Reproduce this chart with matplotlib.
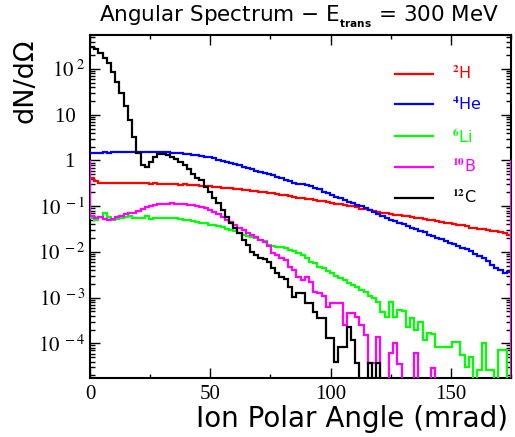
import matplotlib
matplotlib.use("Agg")
import matplotlib.pyplot as plt
import numpy as np
from matplotlib.ticker import FixedLocator, LogLocator, FuncFormatter, NullFormatter

plt.rcParams['mathtext.fontset'] = 'stix'

# 100 bins of 1.75 mrad between 0 and 175 mrad
bin_width = 1.75
n_bins = 100

h2 = [0.42, 0.36, 0.325, 0.32, 0.325, 0.33, 0.32, 0.325, 0.33, 0.325,
      0.32, 0.32, 0.315, 0.32, 0.31, 0.315, 0.31, 0.305, 0.31, 0.30,
      0.30, 0.295, 0.30, 0.29, 0.29, 0.285, 0.28, 0.275, 0.27, 0.265,
      0.26, 0.255, 0.25, 0.245, 0.24, 0.235, 0.23, 0.225, 0.22, 0.215,
      0.205, 0.20, 0.195, 0.19, 0.183, 0.177, 0.172, 0.166, 0.16, 0.155,
      0.15, 0.145, 0.142, 0.137, 0.133, 0.127, 0.122, 0.118, 0.114, 0.110,
      0.106, 0.102, 0.099, 0.094, 0.089, 0.086, 0.083, 0.079, 0.075, 0.072,
      0.0695, 0.067, 0.065, 0.063, 0.062, 0.060, 0.058, 0.056, 0.054, 0.052,
      0.050, 0.049, 0.047, 0.0457, 0.044, 0.042, 0.040, 0.039, 0.038, 0.036,
      0.034, 0.0327, 0.032, 0.031, 0.030, 0.029, 0.028, 0.027, 0.0255, 0.024]

he4 = [1.45, 1.47, 1.48, 1.50, 1.49, 1.51, 1.52, 1.51, 1.53, 1.54,
       1.55, 1.54, 1.56, 1.55, 1.55, 1.54, 1.53, 1.52, 1.51, 1.49,
       1.47, 1.45, 1.42, 1.39, 1.35, 1.31, 1.27, 1.22, 1.17, 1.12,
       1.05, 0.99, 0.93, 0.88, 0.83, 0.78, 0.73, 0.68, 0.64, 0.60,
       0.56, 0.53, 0.50, 0.47, 0.44, 0.41, 0.38, 0.36, 0.33, 0.31,
       0.30, 0.285, 0.27, 0.25, 0.235, 0.205, 0.19, 0.175, 0.16, 0.148,
       0.136, 0.126, 0.117, 0.107, 0.099, 0.090, 0.083, 0.076, 0.069, 0.061,
       0.055, 0.051, 0.047, 0.043, 0.040, 0.037, 0.034, 0.031, 0.029, 0.027,
       0.024, 0.022, 0.020, 0.019, 0.0176, 0.016, 0.0148, 0.0135, 0.0125, 0.0118,
       0.0105, 0.0092, 0.0080, 0.0072, 0.0062, 0.0052, 0.0045, 0.0040, 0.0034, 0.0036]

li6 = [0.055, 0.050, 0.0587, 0.0717, 0.058, 0.050, 0.052, 0.055, 0.058, 0.060,
       0.056, 0.056, 0.055, 0.062, 0.052, 0.054, 0.055, 0.055, 0.055, 0.054,
       0.054, 0.052, 0.050, 0.049, 0.048, 0.046, 0.044, 0.042, 0.039, 0.0386,
       0.037, 0.035, 0.032, 0.030, 0.028, 0.026, 0.024, 0.022, 0.021, 0.020,
       0.018, 0.017, 0.0141, 0.0135, 0.013, 0.0129, 0.012, 0.011, 0.0105, 0.0095,
       0.0085, 0.0072, 0.0061, 0.0057, 0.0048, 0.0044, 0.0039, 0.0034, 0.0030, 0.0027,
       0.0024, 0.0021, 0.0019, 0.00172, 0.0015, 0.00134, 0.0011, 0.00097, 0.00081, 0.00049,
       0.00038, 0.00081, 0.00038, 0.00053, 0.00050, 0.00023, 0.00036, 0.000195, 0.000295, 0.000118,
       0.000167, 0.000160, 8.4e-5, 8.4e-5, 8.4e-5, 8.4e-5, 0.000108, 0.000108, 5.5e-5, 3.1e-5,
       5.1e-5, 0, 2.6e-5, 0.000101, 2.6e-5, 2.6e-5, 0, 7.1e-5, 7.1e-5, 0]

b10 = [0.060, 0.055, 0.057, 0.052, 0.0497, 0.052, 0.057, 0.060, 0.066, 0.070,
       0.071, 0.078, 0.085, 0.095, 0.100, 0.106, 0.109, 0.111, 0.114, 0.116,
       0.114, 0.111, 0.109, 0.106, 0.106, 0.103, 0.098, 0.091, 0.082, 0.076,
       0.067, 0.059, 0.050, 0.046, 0.039, 0.033, 0.030, 0.026, 0.0235, 0.0216,
       0.0184, 0.0169, 0.0132, 0.0096, 0.0085, 0.0073, 0.0066, 0.0047, 0.0040, 0.0028,
       0.0024, 0.0028, 0.0022, 0.00135, 0.00124, 0.0011, 0.00063, 0.00076, 0.00076, 0.00076,
       0.00025, 0.00046, 0.00046, 0.00038, 0.00025, 0.00015, 3.7e-5, 3.7e-5, 0.000135, 0,
       0, 6.3e-5, 0.00010, 3.5e-5, 0, 0, 0, 6.3e-5, 0, 0,
       0, 2.9e-5, 0, 0, 0, 0, 0, 0, 0, 0,
       0, 0, 0, 0, 0, 0, 0, 0, 0, 0]

c12 = [298, 270, 227, 171, 133, 87, 53, 30, 15.5, 7.65,
       3.3, 1.47, 0.79, 0.73, 0.94, 1.21, 1.38, 1.38, 1.29, 1.17,
       1.06, 0.92, 0.79, 0.64, 0.50, 0.41, 0.372, 0.266, 0.207, 0.150,
       0.117, 0.082, 0.0587, 0.0427, 0.0331, 0.0258, 0.0181, 0.0141, 0.0099, 0.0085,
       0.0073, 0.0069, 0.0060, 0.0044, 0.0035, 0.0028, 0.00254, 0.0017, 0.00103, 0.00126,
       0.00126, 0.00076, 0.00076, 0.00048, 0.000355, 0.000355, 0.00013, 0.00013, 3.9e-5, 8.3e-5,
       8.3e-5, 0.000226, 0.000118, 3.7e-5, 0, 0, 3.7e-5, 0, 3.7e-5, 0,
       0, 0, 0, 0, 0, 0, 0, 0, 0, 0,
       0, 0, 0, 0, 0, 0, 0, 0, 0, 0,
       0, 0, 0, 0, 0, 0, 0, 0, 0, 0]

labels = [r"$^{\mathbf{2}}$H", r"$^{\mathbf{4}}$He", r"$^{\mathbf{6}}$Li",
          r"$^{\mathbf{10}}$B", r"$^{\mathbf{12}}$C"]
colors = ["#ff0000", "#0000ff", "#00ff00", "#ff00ff", "#000000"]
# magenta histogram is drawn closed to y=1 at both ends in the original
baselines = [None, None, None, 1.0, None]

y_decades = [-4, -3, -2, -1, 0, 1, 2]

edges = np.arange(n_bins + 1) * bin_width

fig = plt.figure(figsize=(5.15, 4.37), dpi=100)
ax = fig.add_axes([90 / 515, 59 / 437, 421 / 515, 343 / 437])
ax.set_yscale('log', nonpositive='clip')

handles = []
for vals, col, base in zip([h2, he4, li6, b10, c12], colors, baselines):
    h = ax.stairs(np.array(vals, dtype=float), edges, baseline=base,
                  fill=False, color=col, linewidth=1.6, zorder=3)
    handles.append(h)

ax.set_xlim(0, 175)
ax.set_ylim(1.75e-5, 555)

# ROOT-like ticks
ax.xaxis.set_major_locator(FixedLocator([0, 50, 100, 150]))
ax.xaxis.set_minor_locator(FixedLocator([25, 75, 125, 175]))
ax.yaxis.set_major_locator(FixedLocator([10.0 ** e for e in y_decades]))
ax.yaxis.set_minor_locator(LogLocator(base=10, subs=np.arange(2, 10), numticks=20))
ax.yaxis.set_minor_formatter(NullFormatter())


def ylab(v, pos):
    e = int(round(np.log10(v)))
    if e == 0:
        return "1  "
    if e == 1:
        return "10  "
    return r"$10^{\ %d}$" % e


ax.yaxis.set_major_formatter(FuncFormatter(ylab))
ax.tick_params(which='both', direction='in', top=True, right=True, width=1.0)
ax.tick_params(axis='y', which='major', length=7, labelsize=15, pad=3)
ax.tick_params(axis='y', which='minor', length=3.5)
ax.tick_params(axis='x', which='major', length=7, labelsize=15, pad=5)
ax.tick_params(axis='x', which='minor', length=3)
for lab in ax.get_xticklabels() + ax.get_yticklabels():
    lab.set_family('Liberation Serif')
for s in ax.spines.values():
    s.set_linewidth(1.5)

ax.set_xlabel("Ion Polar Angle (mrad)", fontsize=20, ha='right')
ax.xaxis.set_label_coords(0.993, -0.08)
ax.text(-0.154, 0.991, "dN/d\u03a9", transform=ax.transAxes, rotation=90,
        ha='center', va='top', fontsize=19.5)

fig.text(0.5806, 1 - 16.5 / 437,
         r"Angular Spectrum $-$ E$_{_{\mathbf{trans}}}$ = 300 MeV",
         ha='center', va='center', fontsize=15.5, math_fontfamily='dejavusans')

ax.legend(handles, labels, loc='upper left', bbox_to_anchor=(0.7245, 0.913),
          frameon=False, fontsize=11.5, handlelength=2.4, handletextpad=1.15,
          labelspacing=0.85, borderpad=0, borderaxespad=0, labelcolor=colors)

fig.savefig("out.png", dpi=100)
